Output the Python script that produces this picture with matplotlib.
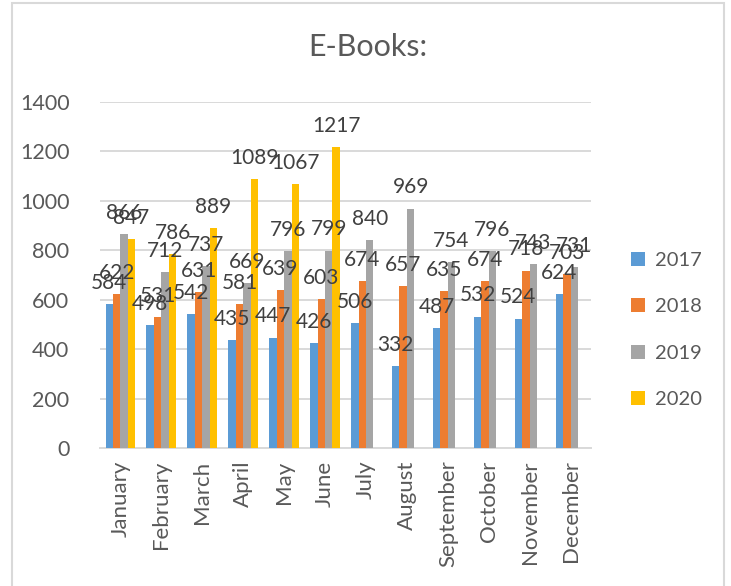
import numpy as np
import matplotlib.pyplot as plt
from matplotlib.patches import Rectangle

months = ["January", "February", "March", "April", "May", "June", "July",
          "August", "September", "October", "November", "December"]
years = ["2017", "2018", "2019", "2020"]
v2017 = [584, 498, 542, 435, 447, 426, 506, 332, 487, 532, 524, 624]
v2018 = [622, 531, 631, 581, 639, 603, 674, 657, 635, 674, 718, 703]
v2019 = [866, 712, 737, 669, 796, 799, 840, 969, 754, 796, 743, 731]
v2020 = [847, 786, 889, 1089, 1067, 1217, None, None, None, None, None, None]
colors = ["#5B9BD5", "#ED7D31", "#A5A5A5", "#FFC000"]

plt.rcParams['font.family'] = ['Lato', 'DejaVu Sans']

fig = plt.figure(figsize=(7.31, 5.86), dpi=100)
ax = fig.add_axes([0.1368, 0.2355, 0.6717, 0.5904])

# outer chart border like the Excel chart area
fig.patches.append(Rectangle((12 / 731, -0.1), 712 / 731, 1.1 - 3 / 586,
                             transform=fig.transFigure, fill=False,
                             edgecolor="#d9d9d9", linewidth=1.5))

x = np.arange(len(months))
w = 1 / 5.5
series = [v2017, v2018, v2019, v2020]
handles = []
for i, vals in enumerate(series):
    vals = np.array([np.nan if v is None else v for v in vals], dtype=float)
    pos = x + (i - 1.5) * w
    b = ax.bar(pos, vals, width=w, color=colors[i], zorder=3)
    handles.append(b)
    for p, v in zip(pos, vals):
        if not np.isnan(v):
            ax.annotate(str(int(v)), (p, v), xytext=(0, 8), textcoords="offset points",
                        ha="center", va="bottom", fontsize=15, color="#404040", zorder=4)

ax.set_xlim(-0.5, len(months) - 0.5)
ax.set_ylim(0, 1400)
ax.set_yticks(range(0, 1401, 200))
ax.set_xticks(x)
ax.set_xticklabels(months, rotation=90, fontsize=16, color="#595959")
ax.tick_params(axis="y", labelsize=15.5, labelcolor="#595959", length=0, pad=22)
ax.tick_params(axis="x", length=0, pad=9)
ax.yaxis.grid(True, color="#d9d9d9", linewidth=1.4, zorder=0)
ax.set_axisbelow(True)
for s in ["top", "right", "left"]:
    ax.spines[s].set_visible(False)
ax.spines["bottom"].set_color("#d9d9d9")
ax.spines["bottom"].set_linewidth(1.4)

fig.text(368 / 731, 1 - 47 / 586, "E-Books:", ha="center", va="center",
         fontsize=22, color="#595959")

fig.legend(handles, years, loc="center left", bbox_to_anchor=(613 / 731, 1 - 330 / 586),
           frameon=False, fontsize=14.5, labelcolor="#595959",
           handlelength=0.7, handleheight=0.7, handletextpad=0.5, labelspacing=1.45)

fig.savefig("out.png", dpi=100)
